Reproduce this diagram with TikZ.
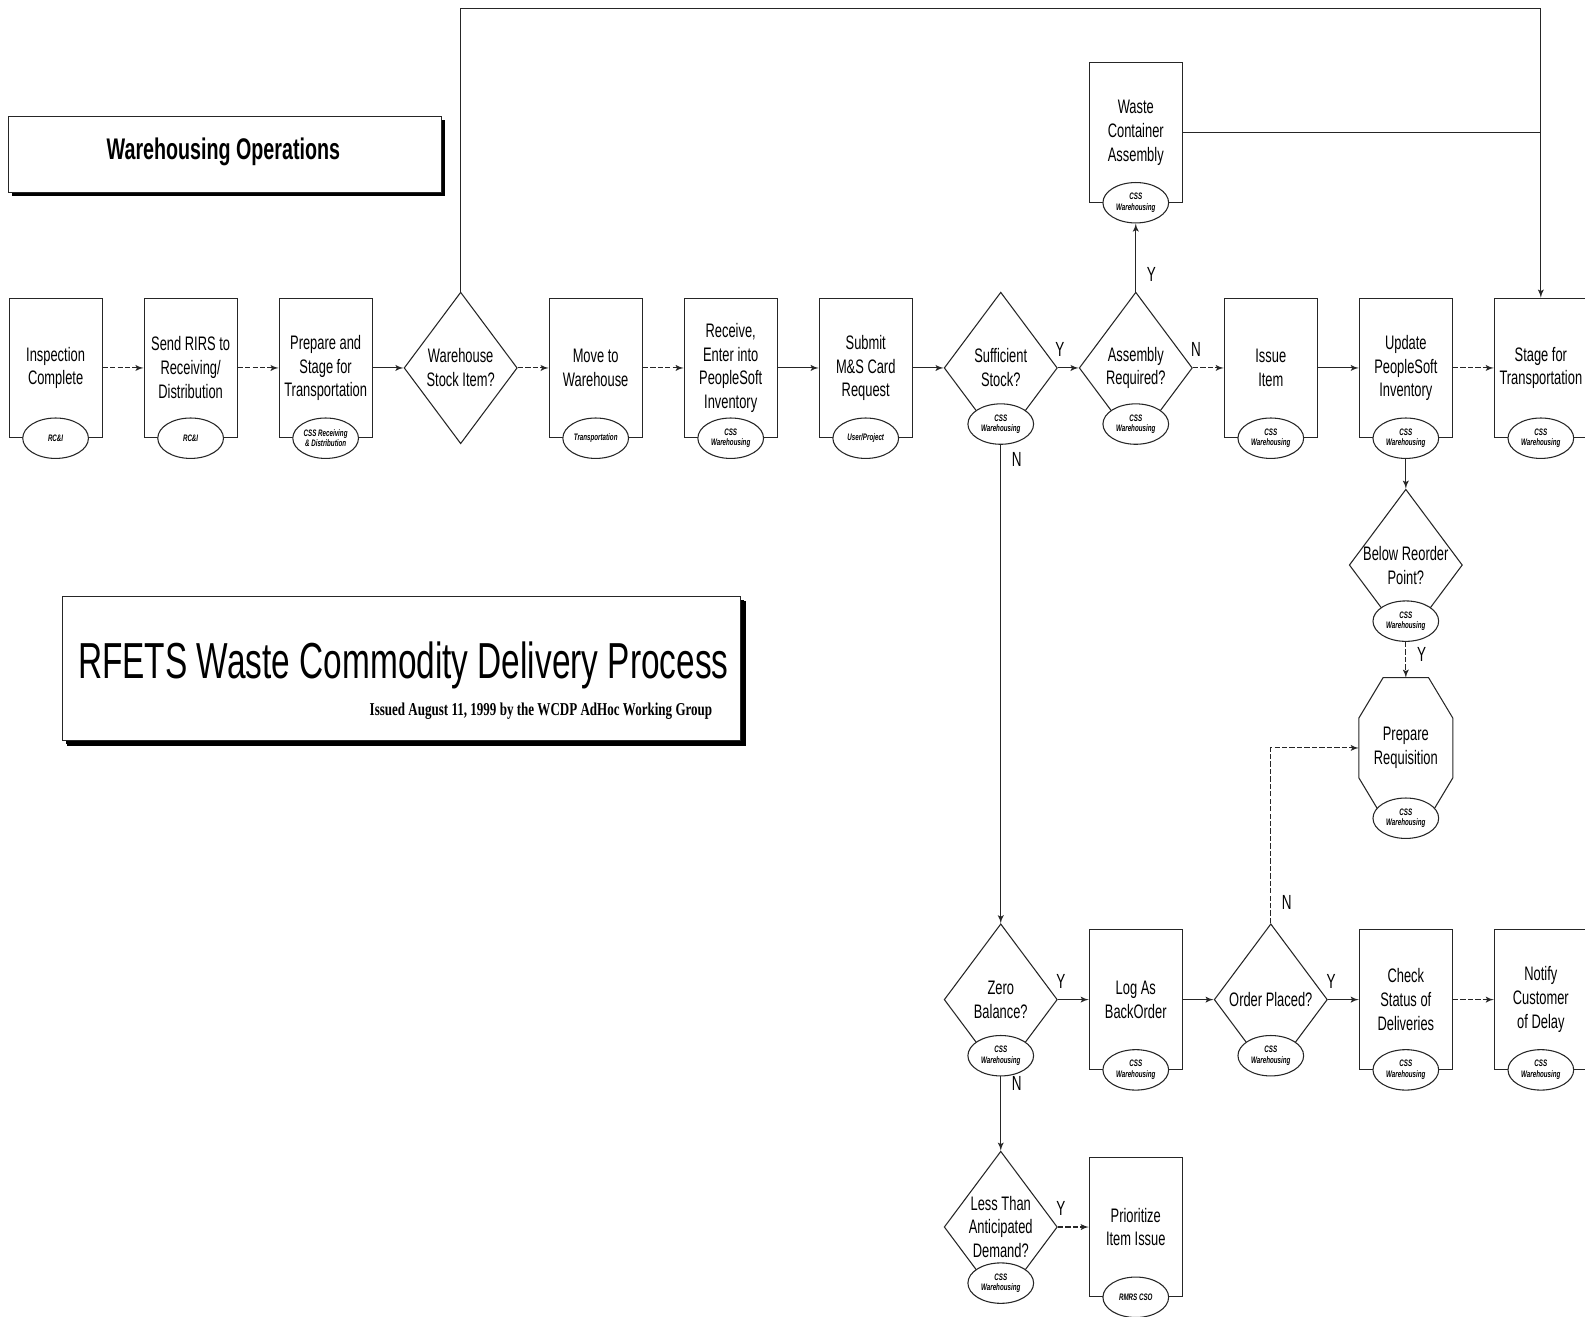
\documentclass[tikz,border=0pt]{standalone}
\usepackage{fontspec}
\setmainfont{Liberation Sans}[FakeStretch=0.66]
\newfontfamily\issuefont{Liberation Serif}[FakeStretch=0.72]
\usetikzlibrary{arrows,positioning,shapes,calc,shadows}

\tikzset{
  box/.style={rectangle,draw,minimum width=1.84cm,minimum height=2.76cm,inner sep=1pt,
    align=center,font=\fontsize{11}{13.5}\selectfont},
  decision/.style={diamond,draw,minimum width=2.24cm,minimum height=3cm,inner sep=0pt},
  dtext/.style={align=center,inner sep=0pt,font=\fontsize{11}{13.5}\selectfont},
  tag/.style={ellipse,draw,fill=white,minimum width=1.3cm,minimum height=0.8cm,inner sep=0pt,
    align=center,font=\fontsize{5.3}{6}\selectfont\bfseries\itshape},
  faint/.style={dash pattern=on 3pt off 1.2pt},
  yn/.style={font=\fontsize{11.5}{13}\selectfont,inner sep=6pt},
  banner/.style={rectangle,draw,fill=white,drop shadow={fill=black,opacity=1,shadow xshift=2pt,shadow yshift=-2pt}}
}

\begin{document}
\begin{tikzpicture}[>=latex',x=0.02cm,y=-0.02cm,node distance=2.672cm,on grid,auto,
    line width=0.6pt,draw=black!85]
  \useasboundingbox (0,0) rectangle (1568,1302);
  \coordinate (ceil) at (0,8);

  % banners
  \node[banner,minimum width=8.58cm,minimum height=1.5cm] (ops) at (222.5,152.5) {};
  \node[font=\fontsize{16.8}{19}\selectfont\bfseries] (ops-x) at (221,150) {Warehousing Operations};
  \node[banner,minimum width=13.42cm,minimum height=2.86cm,
    drop shadow={fill=black,opacity=1,shadow xshift=2.6pt,shadow yshift=-2.6pt}] (wcdp) at (397.5,661.5) {};
  \node[font=\fontsize{28.5}{32}\selectfont] (wcdp-x) at (399,658) {RFETS Waste Commodity Delivery Process};
  \node[anchor=base east,font=\fontsize{10.2}{12}\selectfont\issuefont\bfseries] (wcdp-i) at (711,708)
    {Issued August 11, 1999 by the WCDP AdHoc Working Group};

  % main row
  \node[box] (insp) at (55,364) {Inspection\\Complete};
  \node[box] (rirs) [right=of insp] {Send RIRS to\\Receiving/\\Distribution};
  \node[box] (prep) [right=of rirs] {Prepare and\\Stage for\\Transportation};
  \node[decision] (wsi) [right=of prep] {};
  \node[box] (move) [right=of wsi] {Move to\\Warehouse};
  \node[box] (recv) [right=of move] {Receive,\\Enter into\\PeopleSoft\\Inventory};
  \node[box] (subm) [right=of recv] {Submit\\M\&S Card\\Request};
  \node[decision] (ss) [right=of subm] {};
  \node[decision] (ar) [right=of ss] {};
  \node[box] (issue) [right=of ar] {Issue\\Item};
  \node[box] (upd) [right=of issue] {Update\\PeopleSoft\\Inventory};
  \node[box] (stage) [right=of upd] {Stage for\\Transportation};
  \node[box] (wca) [above=4.66cm of ar] {Waste\\Container\\Assembly};

  % reorder branch
  \node[decision] (br) [below=3.9cm of upd] {};
  \node[box,draw=none] (preq) [below=3.62cm of br] {Prepare\\Requisition};
  \draw ($(preq.north west)+(0,40)$) -- ($(preq.north west)+(24,0)$) -- ($(preq.north east)+(-24,0)$)
    -- ($(preq.north east)+(0,40)$) -- ($(preq.south east)+(0,-40)$) -- ($(preq.south east)+(-24,0)$)
    -- ($(preq.south west)+(24,0)$) -- ($(preq.south west)+(0,-40)$) -- cycle;

  % lower rows
  \node[decision] (zb) [below=12.5cm of ss] {};
  \node[box] (log) [right=of zb] {Log As\\BackOrder};
  \node[decision] (op) [right=of log] {};
  \node[box] (chk) [right=of op] {Check\\Status of\\Deliveries};
  \node[box] (ntf) [right=of chk] {Notify\\Customer\\of Delay};
  \node[decision] (ltd) [below=4.5cm of zb] {};
  \node[box] (pri) [right=of ltd] {Prioritize\\Item Issue};

  % decision texts
  \node[dtext] (wsi-x) at (wsi) {Warehouse\\Stock Item?};
  \node[dtext] (ss-x) at (ss) {Sufficient\\Stock?};
  \node[dtext] (ar-x) at (ar) {Assembly\\Required?};
  \node[dtext] (br-x) at (br) {Below Reorder\\Point?};
  \node[dtext] (zb-x) at (zb) {Zero\\Balance?};
  \node[dtext] (op-x) at (op) {Order Placed?};
  \node[dtext] (ltd-x) at (ltd) {Less Than\\Anticipated\\Demand?};

  % owner tags
  \node[tag] (insp-t) at (insp.south) {RC\&I};
  \node[tag] (rirs-t) at (rirs.south) {RC\&I};
  \node[tag] (prep-t) at (prep.south) {CSS Receiving\\\& Distribution};
  \node[tag] (move-t) at (move.south) {Transportation};
  \node[tag] (recv-t) at (recv.south) {CSS\\Warehousing};
  \node[tag] (subm-t) at (subm.south) {User/Project};
  \node[tag] (ss-t) at ($(ss.south)+(0,-20)$) {CSS\\Warehousing};
  \node[tag] (ar-t) at ($(ar.south)+(0,-20)$) {CSS\\Warehousing};
  \node[tag] (issue-t) at (issue.south) {CSS\\Warehousing};
  \node[tag] (upd-t) at (upd.south) {CSS\\Warehousing};
  \node[tag] (stage-t) at (stage.south) {CSS\\Warehousing};
  \node[tag] (wca-t) at (wca.south) {CSS\\Warehousing};
  \node[tag] (br-t) at ($(br.south)+(0,-20)$) {CSS\\Warehousing};
  \node[tag] (preq-t) at (preq.south) {CSS\\Warehousing};
  \node[tag] (zb-t) at ($(zb.south)+(0,-20)$) {CSS\\Warehousing};
  \node[tag] (log-t) at (log.south) {CSS\\Warehousing};
  \node[tag] (op-t) at ($(op.south)+(0,-20)$) {CSS\\Warehousing};
  \node[tag] (chk-t) at (chk.south) {CSS\\Warehousing};
  \node[tag] (ntf-t) at (ntf.south) {CSS\\Warehousing};
  \node[tag] (ltd-t) at ($(ltd.south)+(0,-20)$) {CSS\\Warehousing};
  \node[tag] (pri-t) at (pri.south) {RMRS CSO};

  % connectors
  \path[->] (insp) edge[faint] (rirs);
  \path[->] (rirs) edge[faint] (prep);
  \path[->] (prep) edge (wsi);
  \path[->] (wsi) edge[faint] (move);
  \path[->] (move) edge[faint] (recv);
  \path[->] (recv) edge (subm);
  \path[->] (subm) edge (ss);
  \path[->] (ss) edge node[yn,pos=0.1] {Y} (ar);
  \path[->] (ar) edge node[yn,pos=0.25,swap] {Y} (wca-t);
  \path[->] (ar) edge[faint] node[yn,pos=0.1] {N} (issue);
  \path[->] (issue) edge (upd);
  \path[->] (upd) edge[faint] (stage);
  \draw[->] (wsi) -- (wsi |- ceil) -| (stage);
  \draw (wca) -- (wca -| stage);
  \path[->] (upd-t) edge (br);
  \path[->] (br-t) edge[faint] node[yn,pos=0.35,right] {Y} (preq);
  \path[->] (ss-t) edge node[yn,pos=0.03,right] {N} (zb);
  \path[->] (zb) edge node[yn,pos=0.1] {Y} (log);
  \path[->] (log) edge (op);
  \draw[->,faint] (op) |- node[yn,pos=0.06,right] {N} (preq);
  \path[->] (op) edge node[yn,pos=0.1] {Y} (chk);
  \path[->] (chk) edge[faint] (ntf);
  \path[->] (zb-t) edge node[yn,pos=0.1,right] {N} (ltd);
  \path[->] (ltd) edge[faint] node[yn,pos=0.1] {Y} (pri);
\end{tikzpicture}
\end{document}
